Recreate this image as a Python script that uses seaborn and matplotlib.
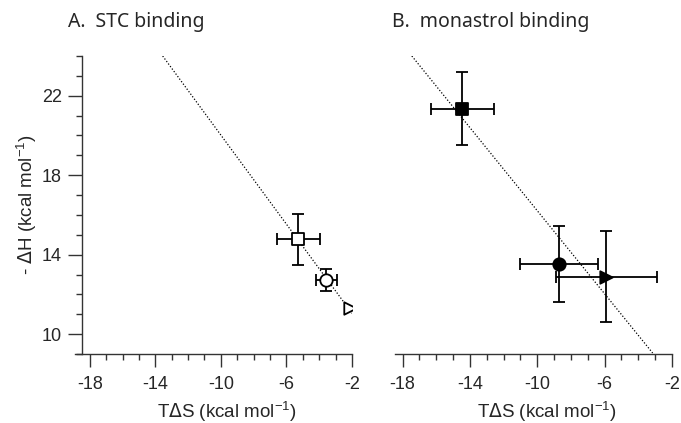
import matplotlib
matplotlib.use("Agg")
import matplotlib.pyplot as plt
import seaborn as sns
import pandas as pd
from matplotlib.ticker import MultipleLocator

sns.set_theme(style="ticks")
plt.rcParams['font.family'] = ['Liberation Sans', 'DejaVu Sans']
plt.rcParams['axes.unicode_minus'] = False

# Panel A: STC binding
a_tds = [-5.27, -3.58, -2.10]
a_tds_err = [1.30, 0.64, 0.0]
a_dh = [14.78, 12.72, 11.33]
a_dh_err = [1.28, 0.57, 0.0]
a_markers = ['s', 'o', '>']
a_fill = ['white', 'white', 'white']
a_line_x = [-13.55, -2.0]
a_line_y = [24.0, 11.05]

# Panel B: monastrol binding
b_tds = [-14.45, -8.71, -5.90]
b_tds_err = [1.85, 2.30, 3.00]
b_dh = [21.35, 13.53, 12.90]
b_dh_err = [1.85, 1.90, 2.30]
b_markers = ['s', 'o', '>']
b_fill = ['black', 'black', 'black']
b_line_x = [-17.45, -3.15]
b_line_y = [24.0, 9.05]

titles = ["A.  STC binding", "B.  monastrol binding"]
xticks = [-18, -14, -10, -6, -2]
yticks = [10, 14, 18, 22]
xlabel = r"T$\Delta$S (kcal mol$^{\mathregular{-1}}$)"
ylabel = r"- $\Delta$H (kcal mol$^{\mathregular{-1}}$)"

W, H = 681, 423
fig = plt.figure(figsize=(W / 100, H / 100), dpi=100)

def fx(px):
    return px / W

def fy(py):
    return 1 - py / H

axA = fig.add_axes([fx(75), fy(354), fx(352 - 75), fy(56) - fy(354)])
axB = fig.add_axes([fx(395), fy(354), fx(672 - 395), fy(56) - fy(354)])

panels = [
    (axA, a_tds, a_tds_err, a_dh, a_dh_err, a_markers, a_fill, a_line_x, a_line_y, (-18.9, -2.0)),
    (axB, b_tds, b_tds_err, b_dh, b_dh_err, b_markers, b_fill, b_line_x, b_line_y, (-18.45, -2.0)),
]

for i, (ax, xs, xe, ys, ye, mk, fc, lx, ly, xlim) in enumerate(panels):
    ax.set_facecolor('white')
    line_df = pd.DataFrame({'x': lx, 'y': ly})
    sns.lineplot(data=line_df, x='x', y='y', ax=ax, color='black', lw=0.9,
                 linestyle=(0, (1, 1.5)), sort=False, zorder=1)
    for x, xerr, y, yerr in zip(xs, xe, ys, ye):
        if xerr > 0 or yerr > 0:
            ax.errorbar(x, y, xerr=xerr, yerr=yerr, fmt='none', ecolor='black',
                        elinewidth=1.3, capsize=4.5, capthick=1.3, zorder=2)
    df = pd.DataFrame({'x': xs, 'y': ys, 'm': mk})
    for j in range(len(xs)):
        sns.scatterplot(data=df.iloc[[j]], x='x', y='y', ax=ax, marker=mk[j],
                        s=80, facecolor=fc[j], edgecolor='black', linewidth=1.3,
                        zorder=3, legend=False)
    ax.set_xlim(*xlim)
    ax.set_ylim(9, 24)
    ax.set_xticks(xticks)
    ax.xaxis.set_minor_locator(MultipleLocator(1))
    ax.yaxis.set_minor_locator(MultipleLocator(1))
    ax.set_xlabel(xlabel, fontsize=13.5, labelpad=4)
    ax.spines['top'].set_visible(False)
    ax.spines['right'].set_visible(False)
    ax.spines['bottom'].set_color('#333333')
    ax.spines['bottom'].set_linewidth(1.0)
    ax.tick_params(axis='x', which='major', length=9, width=1.0, color='#333333',
                   labelsize=13, pad=6.5)
    ax.tick_params(axis='x', which='minor', length=4.5, width=1.0, color='#333333')
    ax.xaxis.set_label_coords(0.55, -0.15)

# Panel A y-axis
axA.set_yticks(yticks)
axA.spines['left'].set_position(('data', -18.5))
axA.spines['left'].set_color('#333333')
axA.spines['left'].set_linewidth(1.0)
axA.tick_params(axis='y', which='major', length=10, width=1.0, color='#333333',
                labelsize=13, pad=4)
axA.tick_params(axis='y', which='minor', length=4.5, width=1.0, color='#333333')
axA.set_ylabel(ylabel, fontsize=13.5, labelpad=2)

# Panel B: no y-axis
axB.spines['left'].set_visible(False)
axB.set_yticks([])
axB.set_ylabel('')
axB.tick_params(axis='y', which='both', left=False, labelleft=False)

fig.text(fx(68), fy(22), titles[0], fontsize=14, ha='left', va='center',
         family=['Noto Sans', 'DejaVu Sans'])
fig.text(fx(392), fy(22), titles[1], fontsize=14, ha='left', va='center',
         family=['Noto Sans', 'DejaVu Sans'])

fig.savefig("out.png", dpi=100, facecolor='white')
